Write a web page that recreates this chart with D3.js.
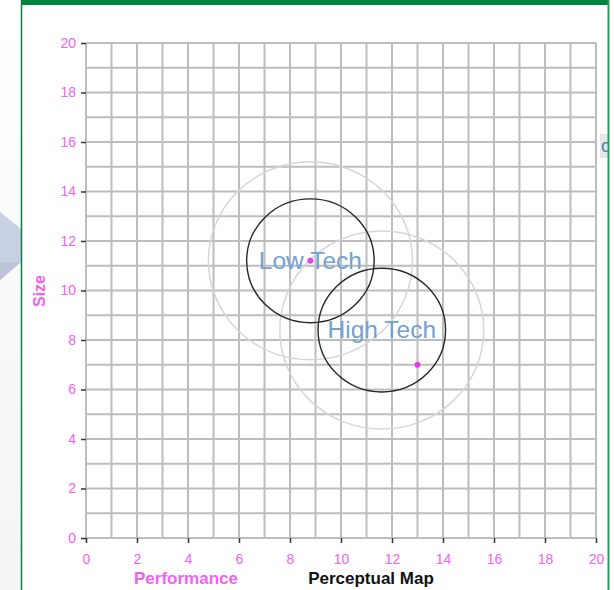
<!DOCTYPE html>
<html>
<head>
<meta charset="utf-8">
<script src="https://cdn.jsdelivr.net/npm/d3@7"></script>
<style>
  html, body { margin: 0; padding: 0; background: #ffffff; }
  svg { display: block; }
  text { font-family: "Liberation Sans", Arial, sans-serif; }
</style>
</head>
<body>
<svg id="chart" width="614" height="590"></svg>
<script>
// Segment centres and ideal spots on the perceptual map
const segments = ["Low Tech", "High Tech"];
const centerPerformance = [8.8, 11.6];
const centerSize = [11.2, 8.4];
const idealPerformance = [8.8, 13.0];
const idealSize = [11.2, 7.0];
// Rough cut and fine cut radii (map units)
const cutRadii = [4.0, 2.5];
const tickValues = [0, 2, 4, 6, 8, 10, 12, 14, 16, 18, 20];
const gridValues = d3.range(0, 21, 1);

const svg = d3.select("#chart");
const W = 614, H = 590;

// page backdrop and slide arrow on the left
const defs = svg.append("defs");
const lg = defs.append("linearGradient").attr("id", "side").attr("x1", 0).attr("y1", 0).attr("x2", 0).attr("y2", 1);
lg.append("stop").attr("offset", 0).attr("stop-color", "#ffffff");
lg.append("stop").attr("offset", 1).attr("stop-color", "#f4f4f4");
svg.append("rect").attr("x", 0).attr("y", 0).attr("width", 21).attr("height", H).attr("fill", "url(#side)");
svg.append("polygon").attr("points", "0,212 21,229 21,262 0,280").attr("fill", "#c8d0e3");
svg.append("polygon").attr("points", "0,262 21,262 0,280").attr("fill", "#bcc4d8");

// green frame of the panel
const green = "#00843d";
svg.append("rect").attr("x", 21).attr("y", 0).attr("width", 588).attr("height", 5).attr("fill", green);
svg.append("line").attr("x1", 21.5).attr("x2", 21.5).attr("y1", 0).attr("y2", H).attr("stroke", green).attr("stroke-width", 1.5);

// clipped neighbouring widget at the right edge
defs.append("clipPath").attr("id", "edge").append("rect").attr("x", 600).attr("y", 130).attr("width", 8).attr("height", 30);
const edge = svg.append("g").attr("clip-path", "url(#edge)");
edge.append("rect").attr("x", 600).attr("y", 134).attr("width", 8).attr("height", 24).attr("fill", "#e6e6e6");
edge.append("text").attr("x", 601).attr("y", 152).attr("font-size", 18).attr("fill", "#4f7fb0").text("o");

svg.append("line").attr("x1", 608.5).attr("x2", 608.5).attr("y1", 0).attr("y2", H).attr("stroke", "#2e9a5c").attr("stroke-width", 2);

const x = d3.scaleLinear().domain([0, 20]).range([86, 596]);
const y = d3.scaleLinear().domain([0, 20]).range([538, 43]);

// grid
const grid = svg.append("g").attr("stroke", "#bdbdbd").attr("stroke-width", 2);
grid.selectAll("line.v").data(gridValues).join("line").attr("class", "v")
  .attr("x1", d => x(d)).attr("x2", d => x(d)).attr("y1", y(0)).attr("y2", y(20));
grid.selectAll("line.h").data(gridValues).join("line").attr("class", "h")
  .attr("x1", x(0)).attr("x2", x(20)).attr("y1", d => y(d)).attr("y2", d => y(d));

// axes
const pink = "#f262f2";
const xAxis = svg.append("g").attr("transform", `translate(0,${y(0)})`)
  .call(d3.axisBottom(x).tickValues(tickValues).tickSize(5).tickPadding(11).tickFormat(d3.format("d")));
const yAxis = svg.append("g").attr("transform", `translate(${x(0)},0)`)
  .call(d3.axisLeft(y).tickValues(tickValues).tickSize(5).tickPadding(5).tickFormat(d3.format("d")));
[xAxis, yAxis].forEach(a => {
  a.select(".domain").remove();
  a.selectAll(".tick line").attr("stroke", "#333").attr("stroke-width", 1.5);
  a.selectAll(".tick text").attr("fill", pink).attr("font-size", 14)
    .attr("font-family", "'Liberation Sans', Arial, sans-serif");
});

// segment circles: rough cut (outer) and fine cut (inner)
const segIdx = d3.range(segments.length);
const rings = svg.append("g").attr("fill", "none");
cutRadii.forEach((r, k) => {
  rings.selectAll(null).data(segIdx).join("ellipse")
    .attr("cx", i => x(centerPerformance[i]))
    .attr("cy", i => y(centerSize[i]))
    .attr("rx", x(r) - x(0))
    .attr("ry", y(0) - y(r))
    .attr("stroke", k === 0 ? "#d6d6d6" : "#262626")
    .attr("stroke-width", k === 0 ? 1.5 : 1.4);
});

// segment names
svg.append("g").selectAll("text").data(segIdx).join("text")
  .attr("x", i => x(centerPerformance[i]))
  .attr("y", i => y(centerSize[i]) + 8)
  .attr("text-anchor", "middle")
  .attr("font-size", 24.5)
  .attr("fill", "#72a2d0")
  .text(i => segments[i]);

// ideal spots
svg.append("g").selectAll("circle").data(segIdx).join("circle")
  .attr("cx", i => x(idealPerformance[i]))
  .attr("cy", i => y(idealSize[i]))
  .attr("r", 3)
  .attr("fill", "#e040e0");

// titles
svg.append("text").attr("transform", "translate(45,291) rotate(-90)")
  .attr("text-anchor", "middle").attr("font-size", 16).attr("font-weight", "bold")
  .attr("fill", pink).text("Size");
svg.append("text").attr("x", 186).attr("y", 584).attr("text-anchor", "middle")
  .attr("font-size", 17).attr("font-weight", "bold").attr("fill", pink).text("Performance");
svg.append("text").attr("x", 371).attr("y", 584).attr("text-anchor", "middle")
  .attr("font-size", 17).attr("font-weight", "bold").attr("fill", "#111").text("Perceptual Map");
</script>
</body>
</html>
